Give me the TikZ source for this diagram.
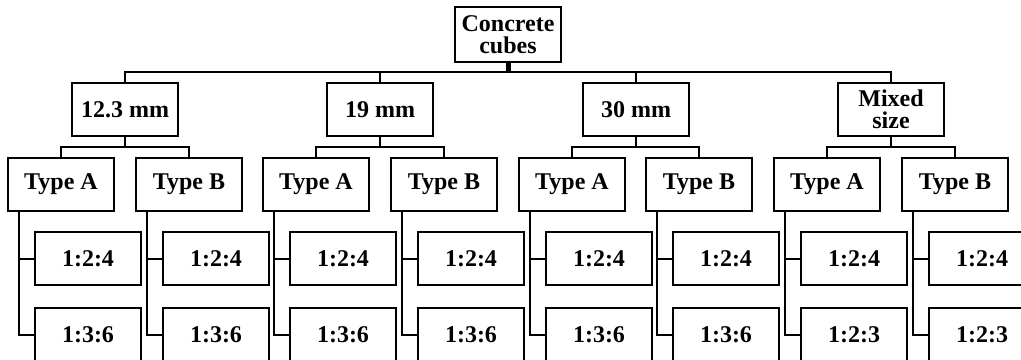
\documentclass[tikz,border=0pt]{standalone}
\usepackage{fontspec}
\setmainfont{Liberation Serif}
\begin{document}
\begin{tikzpicture}[x=0.75pt,y=-0.75pt,
  box/.style={draw, line width=1.5pt, minimum width=79.5pt, minimum height=39.75pt,
    inner sep=0pt, align=center, font=\fontsize{18}{16.5}\selectfont\bfseries},
  link/.style={line width=1.5pt},
  stem/.style={line width=3.75pt}]
\useasboundingbox (0,0) rectangle (1021,360);
\node[box, minimum height=41.25pt] (root) at (508,34.5) {Concrete\\cubes};
\coordinate (bar) at (508,72);
\draw[stem] (root.south) -- (bar);
\foreach \j/\x/\t in {1/125/12.3 mm, 2/380/19 mm, 3/636/30 mm, 4/891/{Mixed\\size}} {
  \node[box] (c\j) at (\x,109.5) {\t};
  \draw[link] (c\j.north) |- (bar);
  \coordinate (s\j) at (\x,147);
  \draw[link] (c\j.south) -- (s\j);
}
\foreach \i in {0,...,7} {
  \pgfmathsetmacro\L{round(8+127.7*\i)}
  \pgfmathtruncatemacro\p{int(\i/2)+1}
  \node[box] (t\i) at (\L+53,184.5) {\ifodd\i Type B\else Type A\fi};
  \draw[link] (t\i.north) |- (s\p);
  \node[box] (la\i) at (\L+80,258.5) {1:2:4};
  \node[box] (lb\i) at (\L+80,334.5) {\ifnum\i>5 1:2:3\else 1:3:6\fi};
  \coordinate (v\i) at (\L+11,211);
  \draw[link] (v\i) |- (la\i.west);
  \draw[link] (v\i) |- (lb\i.west);
}
\end{tikzpicture}
\end{document}
